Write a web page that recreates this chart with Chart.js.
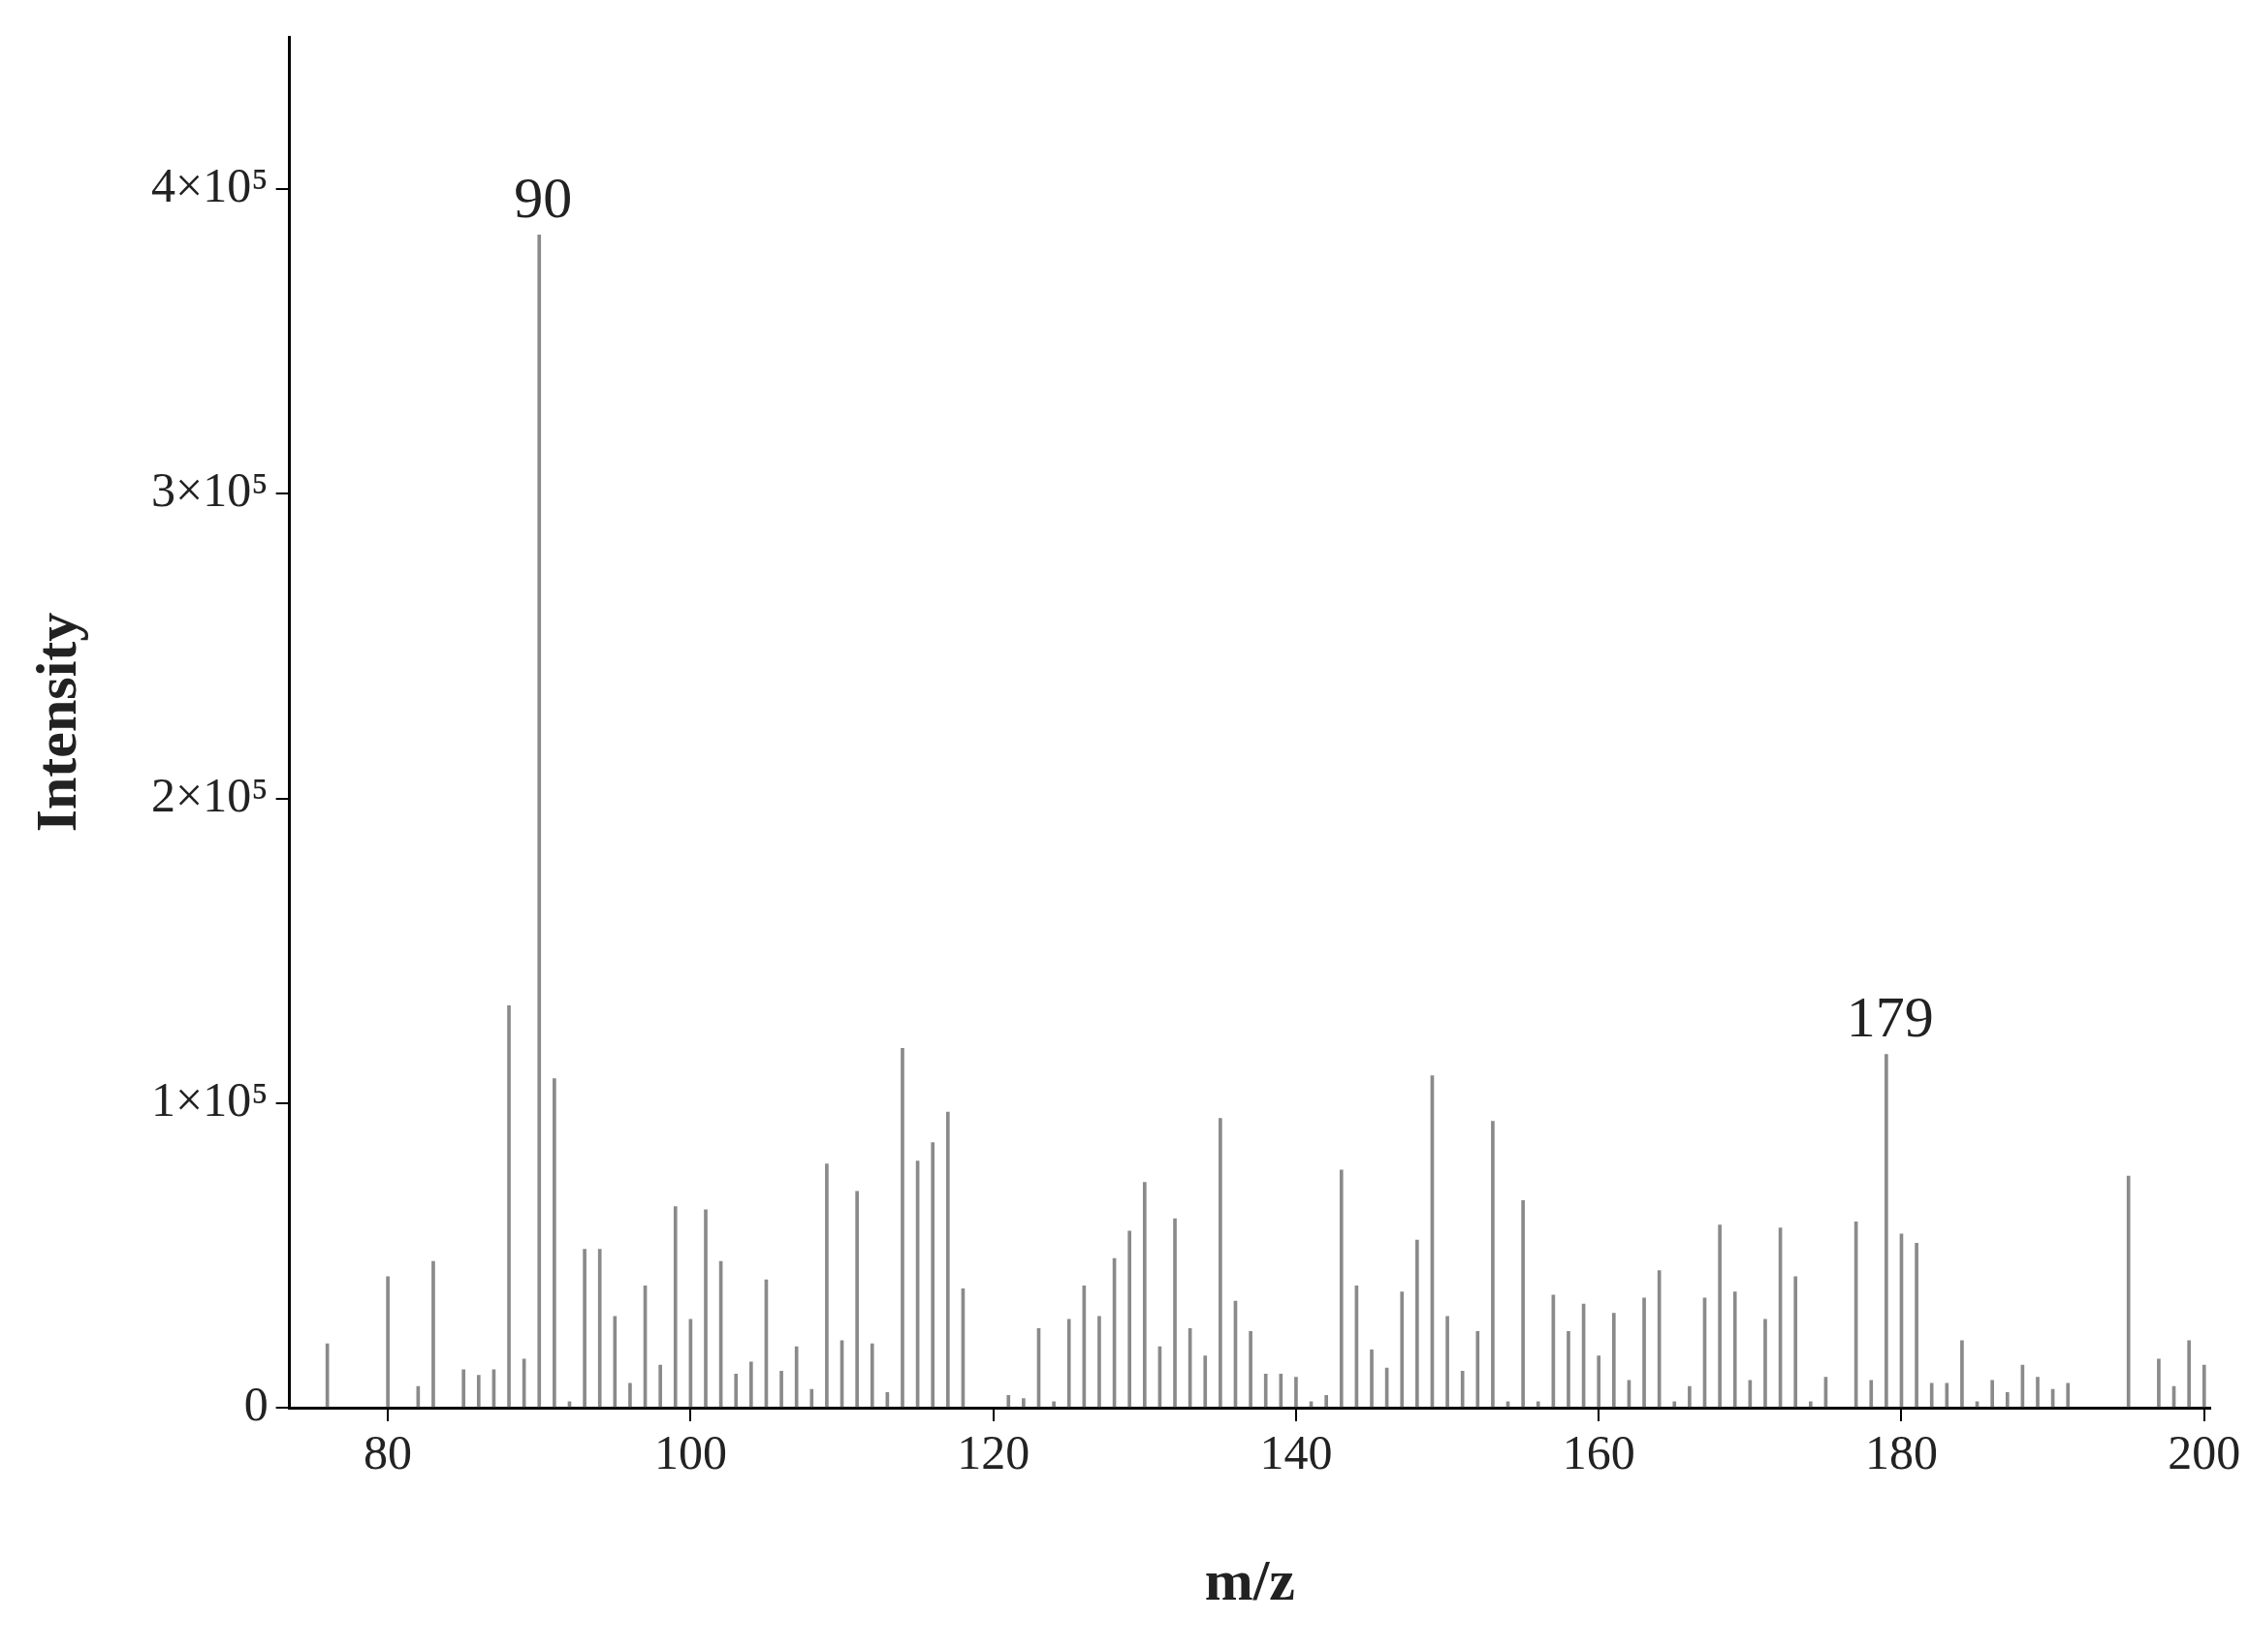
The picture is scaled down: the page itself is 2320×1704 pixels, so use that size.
<!DOCTYPE html>
<html><head><meta charset="utf-8">
<script src="https://cdn.jsdelivr.net/npm/chart.js@4/dist/chart.umd.min.js"></script>
<style>html,body{margin:0;background:#fff}#wrap{width:2320px;height:1704px}</style>
</head><body><div id="wrap"><canvas id="c"></canvas></div>
<script>
// peak positions (m/z) and intensities
var mz = [76,80,82,83,85,86,87,88,89,90,91,92,93,94,95,96,97,98,99,100,101,102,103,104,105,106,107,108,109,110,111,112,113,114,115,116,117,118,121,122,123,124,125,126,127,128,129,130,131,132,133,134,135,136,137,138,139,140,141,142,143,144,145,146,147,148,149,150,151,152,153,154,155,156,157,158,159,160,161,162,163,164,165,166,167,168,169,170,171,172,173,174,175,177,178,179,180,181,182,183,184,185,186,187,188,189,190,191,195,197,198,199,200];
var intensity = [21000,43000,7000,48000,12500,10600,12500,132000,16000,385000,108000,2000,52000,52000,30000,8000,40000,14000,66000,29000,65000,48000,11000,15000,42000,12000,20000,6000,80000,22000,71000,21000,5000,118000,81000,87000,97000,39000,4000,3000,26000,2000,29000,40000,30000,49000,58000,74000,20000,62000,26000,17000,95000,35000,25000,11000,11000,10000,2000,4000,78000,40000,19000,13000,38000,55000,109000,30000,12000,25000,94000,2000,68000,2000,37000,25000,34000,17000,31000,9000,36000,45000,2000,7000,36000,60000,38000,9000,29000,59000,43000,2000,10000,61000,9000,116000,57000,54000,8000,8000,22000,2000,9000,5000,14000,10000,6000,8000,76000,16000,7000,22000,14000];
var labelledPeaks = [90, 179];
var xTicks = [80,100,120,140,160,180,200];
var yTicks = [0,100000,200000,300000,400000];
var yTickText = ["0","1×10⁵","2×10⁵","3×10⁵","4×10⁵"];

var serif = "'Liberation Serif', 'DejaVu Serif', serif";
var points = mz.map(function(m,i){ return {x:m, y:intensity[i]}; });

var peakLabels = {
  id:'peakLabels',
  afterDatasetsDraw: function(chart){
    var ctx = chart.ctx, xs = chart.scales.x, ys = chart.scales.y;
    ctx.save();
    ctx.font = "60px " + serif;
    ctx.fillStyle = "#222";
    ctx.textAlign = "center";
    ctx.textBaseline = "bottom";
    labelledPeaks.forEach(function(p){
      var v = intensity[mz.indexOf(p)];
      ctx.fillText(String(p), xs.getPixelForValue(p) + 4, ys.getPixelForValue(v) - 4);
    });
    ctx.restore();
  }
};

new Chart(document.getElementById("c").getContext('2d'), {
  type: 'bar',
  data: { datasets: [{ data: points, backgroundColor: '#8a8a8a', barThickness: 3 }] },
  options: {
    responsive: true, maintainAspectRatio: false, animation: false,
    layout: { padding: { top: 27, right: 40, left: 22, bottom: 30 } },
    plugins: { legend: { display: false }, tooltip: { enabled: false } },
    scales: {
      x: {
        type: 'linear', min: 73.5, max: 200.4, offset: false,
        afterBuildTicks: function(s){ s.ticks = xTicks.map(function(v){ return {value:v}; }); },
        grid: { drawOnChartArea: false, offset: false, tickLength: 14, color: '#000', lineWidth: 2 },
        border: { color: '#000', width: 3 },
        ticks: { font: { family: serif, size: 50 }, color: '#222', maxRotation: 0, padding: 6 },
        title: { display: true, text: 'm/z', font: { family: serif, size: 60, weight: 'bold' }, color: '#222', padding: { top: 60 } }
      },
      y: {
        min: 0, max: 450000,
        afterBuildTicks: function(s){ s.ticks = yTicks.map(function(v){ return {value:v}; }); },
        grid: { drawOnChartArea: false, tickLength: 14, color: '#000', lineWidth: 2 },
        border: { color: '#000', width: 3 },
        ticks: { font: { family: serif, size: 50 }, color: '#222', padding: 8,
          callback: function(v){ var i = yTicks.indexOf(v); return i >= 0 ? yTickText[i] : ''; } },
        title: { display: true, text: 'Intensity', font: { family: serif, size: 60, weight: 'bold' }, color: '#222', padding: { bottom: 50 } }
      }
    }
  },
  plugins: [peakLabels]
});
</script></body></html>
